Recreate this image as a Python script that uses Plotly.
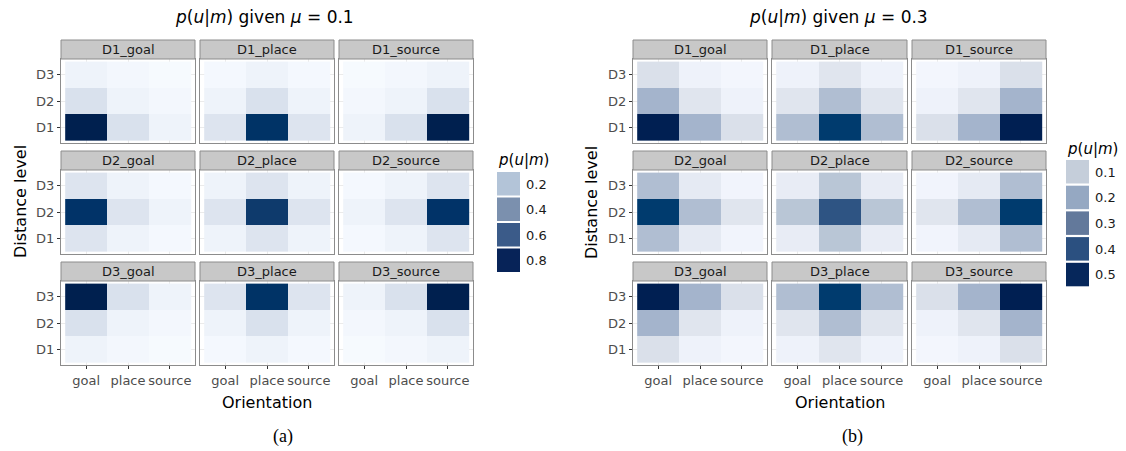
import plotly.graph_objects as go

# ---------------- data ----------------
orientations = ["goal", "place", "source"]
levels = ["D1", "D2", "D3"]            # rows of each matrix below (bottom -> top)
panels = ["D1_goal", "D1_place", "D1_source",
          "D2_goal", "D2_place", "D2_source",
          "D3_goal", "D3_place", "D3_source"]

# p(u|m), mu = 0.1 ; each panel: rows D1, D2, D3 ; columns goal, place, source
mu01_D1_goal   = [[0.85, 0.06, 0.01], [0.06, 0.01, 0.003], [0.01, 0.003, 0.001]]
mu01_D1_place  = [[0.05, 0.78, 0.05], [0.01, 0.06, 0.01], [0.002, 0.01, 0.002]]
mu01_D1_source = [[0.01, 0.06, 0.85], [0.003, 0.01, 0.06], [0.001, 0.003, 0.01]]
mu01_D2_goal   = [[0.05, 0.01, 0.002], [0.80, 0.05, 0.01], [0.05, 0.01, 0.002]]
mu01_D2_place  = [[0.01, 0.05, 0.01], [0.05, 0.72, 0.05], [0.01, 0.05, 0.01]]
mu01_D2_source = [[0.002, 0.01, 0.05], [0.01, 0.05, 0.80], [0.002, 0.01, 0.05]]
mu01_D3_goal   = [[0.01, 0.003, 0.001], [0.06, 0.01, 0.003], [0.85, 0.06, 0.01]]
mu01_D3_place  = [[0.002, 0.01, 0.002], [0.01, 0.06, 0.01], [0.05, 0.78, 0.05]]
mu01_D3_source = [[0.001, 0.003, 0.01], [0.003, 0.01, 0.06], [0.01, 0.06, 0.85]]

# p(u|m), mu = 0.3
mu03_D1_goal   = [[0.50, 0.15, 0.06], [0.15, 0.05, 0.02], [0.06, 0.02, 0.01]]
mu03_D1_place  = [[0.13, 0.43, 0.13], [0.05, 0.13, 0.05], [0.02, 0.05, 0.02]]
mu03_D1_source = [[0.06, 0.15, 0.50], [0.02, 0.05, 0.15], [0.01, 0.02, 0.06]]
mu03_D2_goal   = [[0.13, 0.04, 0.015], [0.43, 0.13, 0.05], [0.13, 0.04, 0.015]]
mu03_D2_place  = [[0.035, 0.11, 0.035], [0.11, 0.36, 0.11], [0.035, 0.11, 0.035]]
mu03_D2_source = [[0.015, 0.04, 0.13], [0.05, 0.13, 0.43], [0.015, 0.04, 0.13]]
mu03_D3_goal   = [[0.06, 0.02, 0.01], [0.15, 0.05, 0.02], [0.50, 0.15, 0.06]]
mu03_D3_place  = [[0.02, 0.05, 0.02], [0.05, 0.13, 0.05], [0.13, 0.43, 0.13]]
mu03_D3_source = [[0.01, 0.02, 0.06], [0.02, 0.05, 0.15], [0.06, 0.15, 0.50]]

legend_breaks_a = ["0.2", "0.4", "0.6", "0.8"]
legend_breaks_b = ["0.1", "0.2", "0.3", "0.4", "0.5"]

titles = ["<i>p</i>(<i>u</i>|<i>m</i>) given <i>μ</i> = 0.1",
          "<i>p</i>(<i>u</i>|<i>m</i>) given <i>μ</i> = 0.3"]
captions = ["(a)", "(b)"]

# ---------------- styles ----------------
W, H = 1126, 451
scale_a_max = 0.9
scale_a = [(0.0, "#f7fbff"), (0.003, "#f3f7fd"), (0.01, "#eef3fa"), (0.05, "#dde4ef"),
           (0.06, "#d9e1ed"), (0.2, "#b3c4d8"), (0.4, "#7b90ae"), (0.6, "#3b5b89"),
           (0.72, "#0e3a6c"), (0.78, "#003366"), (0.80, "#013368"), (0.85, "#00204f"),
           (0.9, "#001c48")]
scale_b_max = 0.55
scale_b = [(0.0, "#f7fbff"), (0.01, "#f3f6fd"), (0.02, "#eef2fa"), (0.035, "#e8ecf5"),
           (0.05, "#e0e5ee"), (0.11, "#b9c6d6"), (0.13, "#b0bed2"), (0.15, "#a4b4cc"),
           (0.36, "#2e5483"), (0.43, "#003b6e"), (0.5, "#001f52"), (0.55, "#001a4a")]
legend_cols_a = ["#b3c4d8", "#7b90ae", "#3b5b89", "#072358"]
legend_cols_b = ["#c5ceda", "#95a8c2", "#63799b", "#2b5080", "#06275b"]

def norm_scale(stops, zmax):
    return [[v / zmax, c] for v, c in stops]

charts = [
    dict(data=[mu01_D1_goal, mu01_D1_place, mu01_D1_source, mu01_D2_goal, mu01_D2_place,
               mu01_D2_source, mu01_D3_goal, mu01_D3_place, mu01_D3_source],
         cs=norm_scale(scale_a, scale_a_max), zmax=scale_a_max,
         cols=[(61, 195), (200, 334), (339, 473)],
         title_x=264, ytitle_x=20, cap_x=283,
         leg_x=497, leg_title_y=160, leg_top=172, leg_step=25.5,
         leg_breaks=legend_breaks_a, leg_cols=legend_cols_a),
    dict(data=[mu03_D1_goal, mu03_D1_place, mu03_D1_source, mu03_D2_goal, mu03_D2_place,
               mu03_D2_source, mu03_D3_goal, mu03_D3_place, mu03_D3_source],
         cs=norm_scale(scale_b, scale_b_max), zmax=scale_b_max,
         cols=[(633, 767), (772, 907), (912, 1046)],
         title_x=838, ytitle_x=591, cap_x=852,
         leg_x=1066, leg_title_y=149, leg_top=160, leg_step=25.7,
         leg_breaks=legend_breaks_b, leg_cols=legend_cols_b),
]

strip_tops = [40, 151, 262]
STRIP_H, PANEL_H = 19, 84

def px(x):
    return x / W

def py(y):
    return 1 - y / H

fig = go.Figure()
shapes, annotations = [], []
layout_axes = {}
FONT = "DejaVu Sans"

for ci, ch in enumerate(charts):
    for r in range(3):
        for k in range(3):
            pi = r * 3 + k
            n = ci * 9 + pi + 1
            sfx = "" if n == 1 else str(n)
            x0, x1 = ch["cols"][k]
            st = strip_tops[r]
            p_top = st + STRIP_H
            p_bot = p_top + PANEL_H
            fig.add_trace(go.Heatmap(
                z=ch["data"][pi], x=orientations, y=levels,
                colorscale=ch["cs"], zmin=0, zmax=ch["zmax"], showscale=False,
                xaxis="x" + sfx, yaxis="y" + sfx, xgap=0, ygap=0,
            ))
            bottom = (r == 2)
            left = (k == 0)
            layout_axes["xaxis" + sfx] = dict(
                domain=[px(x0), px(x1)], anchor="y" + sfx, type="category",
                categoryorder="array", categoryarray=orientations,
                range=[-0.6, 2.6], showgrid=True, gridcolor="#ebebeb", gridwidth=1,
                showline=True, mirror=True, linecolor="#8c8c8c", linewidth=1,
                ticks="outside" if bottom else "", ticklen=3, tickcolor="#333333",
                showticklabels=bottom, zeroline=False, fixedrange=True,
                tickfont=dict(family=FONT, size=13, color="#4d4d4d"),
            )
            layout_axes["yaxis" + sfx] = dict(
                domain=[py(p_bot), py(p_top)], anchor="x" + sfx, type="category",
                categoryorder="array", categoryarray=levels,
                range=[-0.6, 2.6], showgrid=True, gridcolor="#ebebeb", gridwidth=1,
                showline=True, mirror=True, linecolor="#8c8c8c", linewidth=1,
                ticks="outside" if left else "", ticklen=3, tickcolor="#333333",
                showticklabels=left, zeroline=False, fixedrange=True,
                tickfont=dict(family=FONT, size=13, color="#4d4d4d"),
            )
            # strip
            shapes.append(dict(type="rect", xref="paper", yref="paper",
                               x0=px(x0), x1=px(x1), y0=py(p_top), y1=py(st),
                               fillcolor="#c8c8c8", line=dict(color="#8c8c8c", width=1)))
            annotations.append(dict(text=panels[pi], xref="paper", yref="paper",
                                    x=px((x0 + x1) / 2), y=py(st + STRIP_H / 2),
                                    showarrow=False, xanchor="center", yanchor="middle",
                                    font=dict(family=FONT, size=13, color="#1a1a1a")))
    cx = (ch["cols"][0][0] + ch["cols"][2][1]) / 2
    # title
    annotations.append(dict(text=titles[ci], xref="paper", yref="paper",
                            x=px(ch["title_x"]), y=py(17), showarrow=False,
                            xanchor="center", yanchor="middle",
                            font=dict(family=FONT, size=17, color="#000000")))
    # axis titles
    annotations.append(dict(text="Orientation", xref="paper", yref="paper",
                            x=px(cx), y=py(402), showarrow=False,
                            xanchor="center", yanchor="middle",
                            font=dict(family=FONT, size=16, color="#000000")))
    annotations.append(dict(text="Distance level", xref="paper", yref="paper",
                            x=px(ch["ytitle_x"]), y=py(202), showarrow=False, textangle=-90,
                            xanchor="center", yanchor="middle",
                            font=dict(family=FONT, size=16, color="#000000")))
    annotations.append(dict(text=captions[ci], xref="paper", yref="paper",
                            x=px(ch["cap_x"]), y=py(436), showarrow=False,
                            xanchor="center", yanchor="middle",
                            font=dict(family="Liberation Serif", size=18, color="#000000")))
    # legend
    annotations.append(dict(text="<i>p</i>(<i>u</i>|<i>m</i>)", xref="paper", yref="paper",
                            x=px(ch["leg_x"] - 1), y=py(ch["leg_title_y"]), showarrow=False,
                            xanchor="left", yanchor="middle",
                            font=dict(family=FONT, size=15, color="#000000")))
    for i, (lab, col) in enumerate(zip(ch["leg_breaks"], ch["leg_cols"])):
        t = ch["leg_top"] + i * ch["leg_step"]
        shapes.append(dict(type="rect", xref="paper", yref="paper",
                           x0=px(ch["leg_x"]), x1=px(ch["leg_x"] + 23),
                           y0=py(t + 23.5), y1=py(t), fillcolor=col, line=dict(width=0)))
        annotations.append(dict(text=lab, xref="paper", yref="paper",
                                x=px(ch["leg_x"] + 27), y=py(t + 12), showarrow=False,
                                xanchor="left", yanchor="middle",
                                font=dict(family=FONT, size=13, color="#1a1a1a")))

fig.update_layout(
    width=W, height=H, margin=dict(l=0, r=0, t=0, b=0),
    paper_bgcolor="white", plot_bgcolor="white", showlegend=False,
    shapes=shapes, annotations=annotations, font=dict(family=FONT),
    **layout_axes,
)

fig.write_html("out.html", config={"displayModeBar": False},
               post_script="document.body.style.margin='0';document.body.style.overflow='hidden';")
